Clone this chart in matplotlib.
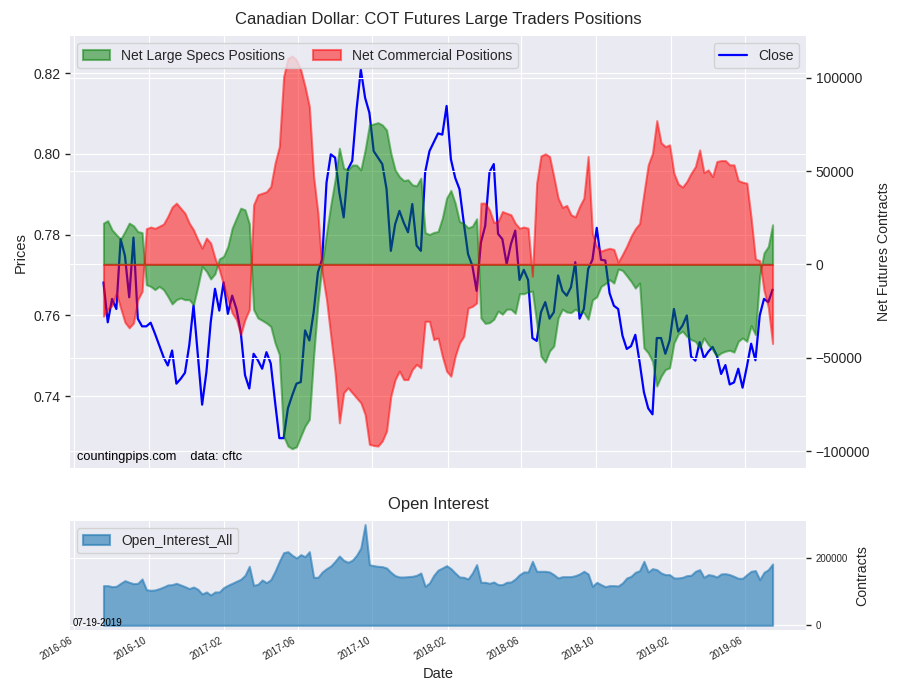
import matplotlib
matplotlib.use("Agg")
import matplotlib.pyplot as plt
import matplotlib.dates as mdates
import numpy as np
import pandas as pd

plt.style.use("seaborn-v0_8-darkgrid")
plt.rcParams["font.family"] = ["Liberation Sans", "DejaVu Sans"]

# ---------------- data (weekly COT reports) ----------------
start_date = "2016-07-19"
n_weeks = 157

close = [0.7682, 0.7583, 0.7641, 0.7616, 0.7789, 0.7748, 0.7645, 0.7793, 0.7592, 0.7573,
         0.7573, 0.7582, 0.7555, 0.7526, 0.7497, 0.7476, 0.7513, 0.7431, 0.7443, 0.7458,
         0.7526, 0.7625, 0.7501, 0.7379, 0.7460, 0.7583, 0.7666, 0.7612, 0.7682, 0.7604,
         0.7649, 0.7616, 0.7559, 0.7452, 0.7419, 0.7505, 0.7489, 0.7468, 0.7509, 0.7481,
         0.7386, 0.7296, 0.7296, 0.7370, 0.7402, 0.7431, 0.7435, 0.7563, 0.7538, 0.7608,
         0.7707, 0.7740, 0.7929, 0.7999, 0.7991, 0.7904, 0.7843, 0.7962, 0.7983, 0.8110,
         0.8209, 0.8139, 0.8102, 0.8007, 0.7991, 0.7975, 0.7913, 0.7760, 0.7826, 0.7859,
         0.7830, 0.7806, 0.7876, 0.7773, 0.7760, 0.7955, 0.8007, 0.8029, 0.8051, 0.8048,
         0.8119, 0.7987, 0.7941, 0.7913, 0.7830, 0.7752, 0.7723, 0.7661, 0.7781, 0.7822,
         0.7955, 0.7975, 0.7802, 0.7789, 0.7727, 0.7777, 0.7810, 0.7688, 0.7713, 0.7688,
         0.7544, 0.7537, 0.7608, 0.7633, 0.7592, 0.7608, 0.7699, 0.7661, 0.7649, 0.7670,
         0.7732, 0.7592, 0.7616, 0.7715, 0.7738, 0.7817, 0.7738, 0.7736, 0.7655, 0.7624,
         0.7616, 0.7550, 0.7517, 0.7524, 0.7552, 0.7484, 0.7410, 0.7370, 0.7355, 0.7544,
         0.7544, 0.7505, 0.7538, 0.7616, 0.7560, 0.7575, 0.7600, 0.7498, 0.7488, 0.7534,
         0.7494, 0.7510, 0.7522, 0.7501, 0.7455, 0.7477, 0.7429, 0.7434, 0.7468, 0.7421,
         0.7473, 0.7530, 0.7489, 0.7600, 0.7641, 0.7633, 0.7664]

large_specs = [22100, 23400, 18500, 15900, 13500, 17600, 22100, 20700, 17600, 17000,
               -10900, -11800, -13500, -11800, -13500, -17100, -21200, -18900, -18000, -18900,
               -18900, -21600, -11800, -1100, -3700, -7800, -5000, 2900, 4300, 9600,
               19400, 24800, 30100, 29200, 21800, -24200, -28700, -30000, -31400, -33200,
               -42100, -48300, -92000, -97300, -98700, -97700, -92000, -86600, -83000, -49200,
               -20700, 700, 16700, 31900, 45300, 62200, 51500, 50600, 53200, 53200,
               50600, 61300, 74700, 75200, 75900, 74700, 72000, 59500, 50600, 47000,
               44900, 45300, 42600, 42100, 46200, 17000, 16000, 17100, 17600, 24800,
               35500, 39600, 32800, 23000, 21900, 19600, 20400, 24400, -28700, -31600,
               -31200, -29400, -25000, -26700, -24000, -24000, -26200, -15700, -15700, -14800,
               -14300, -31200, -49200, -52300, -46400, -43700, -28700, -24000, -25500, -25800,
               -24000, -25500, -25800, -29400, -19000, -17400, -11800, -10300, -8200, -10000,
               -2500, -3200, -6100, -9100, -12700, -10000, -44700, -47400, -51900, -65200,
               -59900, -56300, -55400, -42100, -37300, -35800, -38500, -40300, -41200, -44700,
               -39400, -42900, -45600, -49200, -47400, -46500, -46000, -47000, -41200, -39400,
               -41200, -32800, -37600, -6000, 6100, 9600, 21200]

commercials = [-27800, -23900, -22100, -15300, -23400, -31000, -34000, -31400, -18900, -14500,
               19100, 20000, 19300, 20400, 21600, 25700, 30700, 32800, 30100, 27400,
               22100, 18500, 13200, 8700, 14100, 11400, 3400, -2900, -10900, -18900,
               -26000, -29600, -37600, -29600, -24200, 31900, 37300, 38100, 38900, 41700,
               54200, 63100, 100500, 110300, 111600, 109500, 104100, 95200, 84500, 47100,
               27400, -4600, -18900, -38500, -58100, -84900, -68800, -66100, -68800, -71500,
               -74100, -80400, -96400, -97000, -97300, -94600, -89300, -70600, -61700, -57200,
               -61700, -61700, -56300, -53600, -55400, -30500, -30500, -40300, -39400, -49200,
               -57200, -59900, -49200, -42100, -38500, -23400, -22500, -20700, 32800, 32800,
               29200, 22500, 23000, 28300, 27400, 26600, 22100, 19400, 20000, 19400,
               -6400, 43500, 58100, 59200, 57800, 47000, 35500, 30500, 31600, 26600,
               25400, 31000, 35500, 57800, 16500, 9500, 7100, 8000, 8600, 8000,
               1200, 5300, 9800, 15100, 19100, 21900, 38100, 53300, 59500, 77000,
               65200, 63100, 64000, 48800, 43100, 41400, 44400, 48800, 52400, 61300,
               49200, 50600, 47000, 55100, 55600, 55600, 53300, 53300, 44900, 44000,
               43500, 24800, 2900, 2000, -14000, -23000, -42400]

open_interest = [117900, 117900, 114900, 115900, 124800, 132700, 127800, 123800, 124800, 137700,
                 106000, 104000, 105000, 109000, 113900, 119900, 120900, 124800, 119900, 114900,
                 109000, 113900, 107000, 93100, 99100, 90100, 99100, 99100, 111900, 118900,
                 124800, 130800, 136700, 148600, 175300, 118900, 121800, 134700, 126800, 135700,
                 160500, 190200, 216000, 218900, 208000, 200100, 210000, 204100, 218900, 142600,
                 142600, 158500, 168400, 176300, 190200, 206000, 193200, 187200, 193200, 208000,
                 229800, 299200, 180300, 177300, 175300, 174300, 170400, 157500, 147600, 143600,
                 143600, 144600, 145600, 148600, 155500, 115900, 125800, 148600, 164000, 170400,
                 177300, 168400, 155500, 143600, 142600, 137700, 155500, 180300, 127800, 127800,
                 124800, 128800, 120900, 120900, 127800, 128800, 137700, 150600, 158500, 158500,
                 190200, 160500, 160500, 160500, 158500, 150600, 140700, 144600, 144600, 144600,
                 147600, 152600, 160500, 152600, 115900, 127800, 120900, 114900, 117900, 117900,
                 116900, 125800, 140700, 145600, 157500, 162500, 190200, 158500, 168400, 165400,
                 155500, 150600, 150600, 140700, 140700, 142600, 147600, 148600, 160500, 165400,
                 142600, 150600, 148600, 143600, 152600, 153500, 150600, 145600, 139700, 139700,
                 150600, 160500, 162500, 135700, 157500, 165400, 182300]

dates = pd.date_range(start_date, periods=n_weeks, freq="7D")

# ---------------- figure ----------------
fig = plt.figure(figsize=(9, 7), dpi=100)
ax1 = fig.add_axes([0.0778, 0.3314, 0.8178, 0.617])
ax3 = fig.add_axes([0.0778, 0.100, 0.8178, 0.1557], sharex=ax1)

tick_kw = dict(length=3.5, width=1, color=".15")

# price line
ax1.plot(dates, close, color="blue", lw=1.6, label="Close")
ax1.set_ylim(0.7222, 0.8292)
ax1.set_yticks([0.74, 0.76, 0.78, 0.80, 0.82])
ax1.set_ylabel("Prices", fontsize=10.5)
ax1.tick_params(axis="y", labelsize=10, **tick_kw)
ax1.tick_params(axis="x", labelbottom=False, length=0)
ax1.legend(loc="upper right", fontsize=10, frameon=True)
ax1.set_title("Canadian Dollar: COT Futures Large Traders Positions", fontsize=12, pad=9)

# positions (twin)
ax2 = ax1.twinx()
ax2.fill_between(dates, 0, large_specs, color="green", alpha=0.5, lw=1.5,
                 label="Net Large Specs Positions")
ax2.fill_between(dates, 0, commercials, color="red", alpha=0.5, lw=1.5,
                 label="Net Commercial Positions")
ax2.set_ylim(-109070, 122250)
ax2.set_yticks([-100000, -50000, 0, 50000, 100000])
ax2.set_ylabel("Net Futures Contracts", fontsize=10.2, labelpad=5)
ax2.tick_params(axis="y", labelsize=10, **tick_kw)
ax2.legend(loc="upper left", ncol=2, fontsize=10, frameon=True)
ax2.text(0.01, 0.012, "countingpips.com    data: cftc", transform=ax2.transAxes,
         fontsize=9.2, color="black", va="bottom", ha="left")

# open interest
ax3.fill_between(dates, 0, open_interest, color="#1f77b4", alpha=0.6, lw=1.5,
                 label="Open_Interest_All")
ax3.set_ylim(-14000, 310000)
ax3.set_yticks([0, 200000])
ax3.yaxis.tick_right()
ax3.yaxis.set_label_position("right")
ax3.set_ylabel("Contracts", fontsize=10.2, labelpad=5)
ax3.tick_params(axis="y", labelsize=7, **tick_kw)
ax3.tick_params(axis="x", labelsize=7, length=0)
ax3.set_title("Open Interest", fontsize=12, pad=9)
ax3.set_xlabel("Date", fontsize=10.5)
ax3.legend(loc="upper left", fontsize=10, frameon=True)
ax3.text(0.004, 0.02, "07-19-2019", transform=ax3.transAxes, fontsize=7,
         color="black", va="bottom", ha="left")

ax3.xaxis.set_major_locator(mdates.MonthLocator(bymonth=(2, 6, 10)))
ax3.xaxis.set_major_formatter(mdates.DateFormatter("%Y-%m"))
span = dates[-1] - dates[0]
ax3.set_xlim(dates[0] - span * 0.05, dates[-1] + span * 0.05)
for lbl in ax3.get_xticklabels():
    lbl.set_rotation(30)
    lbl.set_ha("right")

fig.savefig("out.png", dpi=100)
